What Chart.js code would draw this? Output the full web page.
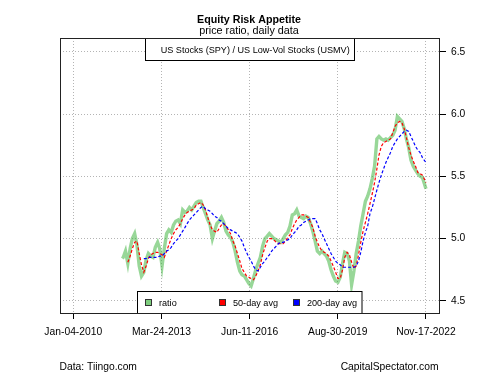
<!DOCTYPE html>
<html>
<head>
<meta charset="utf-8">
<script src="https://cdn.jsdelivr.net/npm/chart.js@4"></script>
<style>
  body { margin: 0; background: #fff; }
  canvas { display: block; }
</style>
</head>
<body>
<canvas id="c" width="500" height="375"></canvas>
<script>
// ── Data (monthly) ───────────────────────────────────────────────────────────
const dates = [
  '2011-10-20','2011-11-01','2011-12-01',
  '2012-01-01','2012-02-01','2012-03-01','2012-04-01','2012-05-01','2012-06-01','2012-07-01','2012-08-01','2012-09-01','2012-10-01','2012-11-01','2012-12-01',
  '2013-01-01','2013-02-01','2013-03-01','2013-04-01','2013-05-01','2013-06-01','2013-07-01','2013-08-01','2013-09-01','2013-10-01','2013-11-01','2013-12-01',
  '2014-01-01','2014-02-01','2014-03-01','2014-04-01','2014-05-01','2014-06-01','2014-07-01','2014-08-01','2014-09-01','2014-10-01','2014-11-01','2014-12-01',
  '2015-01-01','2015-02-01','2015-03-01','2015-04-01','2015-05-01','2015-06-01','2015-07-01','2015-08-01','2015-09-01','2015-10-01','2015-11-01','2015-12-01',
  '2016-01-01','2016-02-01','2016-03-01','2016-04-01','2016-05-01','2016-06-01','2016-07-01','2016-08-01','2016-09-01','2016-10-01','2016-11-01','2016-12-01',
  '2017-01-01','2017-02-01','2017-03-01','2017-04-01','2017-05-01','2017-06-01','2017-07-01','2017-08-01','2017-09-01','2017-10-01','2017-11-01','2017-12-01',
  '2018-01-01','2018-02-01','2018-03-01','2018-04-01','2018-05-01','2018-06-01','2018-07-01','2018-08-01','2018-09-01','2018-10-01','2018-11-01','2018-12-01',
  '2019-01-01','2019-02-01','2019-03-01','2019-04-01','2019-05-01','2019-06-01','2019-07-01','2019-08-01','2019-09-01','2019-10-01','2019-11-01','2019-12-01',
  '2020-01-01','2020-02-01','2020-03-01','2020-04-01','2020-05-01','2020-06-01','2020-07-01','2020-08-01','2020-09-01','2020-10-01','2020-11-01','2020-12-01',
  '2021-01-01','2021-02-01','2021-03-01','2021-04-01','2021-05-01','2021-06-01','2021-07-01','2021-08-01','2021-09-01','2021-10-01','2021-11-01','2021-12-01',
  '2022-01-01','2022-02-01','2022-03-01','2022-04-01','2022-05-01','2022-06-01','2022-07-01','2022-08-01','2022-09-01','2022-10-01','2022-11-17',
];

const ratio = [
  4.84, 4.85, 4.90,
  4.80, 4.92, 5.00, 5.04, 4.95, 4.78, 4.70, 4.73, 4.83, 4.88, 4.86, 4.85,
  4.93, 4.97, 4.92, 4.78, 4.92, 5.04, 5.07, 5.05, 5.11, 5.14, 5.15, 5.12,
  5.23, 5.21, 5.22, 5.25, 5.23, 5.26, 5.29, 5.30, 5.30, 5.25, 5.20, 5.15,
  5.11, 5.00, 5.06, 5.12, 5.14, 5.17, 5.13, 5.06, 5.03, 5.01, 4.97, 4.90,
  4.81, 4.74, 4.71, 4.70, 4.67, 4.64, 4.62, 4.68, 4.75, 4.80, 4.85, 4.94,
  5.00, 5.02, 5.04, 5.02, 5.00, 4.99, 4.98, 4.97, 5.00, 5.03, 5.05, 5.10,
  5.19, 5.20, 5.23, 5.18, 5.17, 5.16, 5.18, 5.17, 5.12, 5.06, 4.98, 4.90,
  4.88, 4.90, 4.88, 4.86, 4.82, 4.75, 4.70, 4.66, 4.65, 4.69, 4.80, 4.89,
  4.88, 4.82, 4.63, 4.74, 4.88, 4.98, 5.10, 5.20, 5.30, 5.34, 5.40, 5.48,
  5.58, 5.80, 5.82, 5.80, 5.79, 5.80, 5.79, 5.81, 5.83, 5.87, 5.98, 5.96,
  5.94, 5.88, 5.80, 5.73, 5.63, 5.58, 5.55, 5.52, 5.50, 5.49, 5.40,
];

const ma50 = [
  null, null, null,
  4.81, 4.86, 4.92, 4.97, 4.98, 4.88, 4.79, 4.73, 4.78, 4.84, 4.87, 4.88,
  4.89, 4.89, 4.88, 4.87, 4.85, 4.90, 4.95, 5.00, 5.04, 5.07, 5.09, 5.12,
  5.16, 5.19, 5.21, 5.22, 5.23, 5.24, 5.27, 5.28, 5.29, 5.27, 5.23, 5.17,
  5.11, 5.07, 5.06, 5.05, 5.08, 5.11, 5.12, 5.10, 5.07, 5.04, 4.98, 4.94,
  4.88, 4.82, 4.76, 4.73, 4.70, 4.69, 4.68, 4.67, 4.70, 4.74, 4.79, 4.87,
  4.93, 4.98, 5.00, 5.00, 4.99, 4.97, 4.96, 4.96, 4.96, 4.98, 5.01, 5.03,
  5.08, 5.12, 5.15, 5.17, 5.19, 5.19, 5.18, 5.17, 5.13, 5.09, 5.02, 4.97,
  4.93, 4.90, 4.89, 4.88, 4.86, 4.82, 4.78, 4.73, 4.68, 4.68, 4.75, 4.85,
  4.89, 4.87, 4.81, 4.76, 4.78, 4.87, 4.97, 5.06, 5.13, 5.20, 5.28, 5.36,
  5.45, 5.56, 5.67, 5.74, 5.77, 5.78, 5.79, 5.80, 5.85, 5.90, 5.93, 5.94,
  5.93, 5.88, 5.81, 5.73, 5.67, 5.62, 5.58, 5.53, 5.52, 5.51, 5.45,
];

const ma200 = [
  null, null, null,
  null, null, null, null, null, null, null, 4.84, 4.84, 4.85, 4.85, 4.85,
  4.85, 4.85, 4.86, 4.86, 4.88, 4.90, 4.91, 4.93, 4.96, 4.98, 5.00, 5.03,
  5.06, 5.09, 5.12, 5.15, 5.17, 5.19, 5.21, 5.23, 5.25, 5.26, 5.24, 5.23,
  5.22, 5.20, 5.18, 5.17, 5.15, 5.14, 5.12, 5.10, 5.08, 5.07, 5.06, 5.05,
  5.04, 5.01, 4.98, 4.93, 4.89, 4.85, 4.82, 4.78, 4.75, 4.74, 4.77, 4.80,
  4.82, 4.85, 4.87, 4.90, 4.92, 4.94, 4.96, 4.97, 4.97, 4.98, 4.99, 5.00,
  5.03, 5.05, 5.07, 5.10, 5.11, 5.13, 5.14, 5.15, 5.16, 5.16, 5.16, 5.12,
  5.07, 5.04, 5.00, 4.96, 4.92, 4.88, 4.85, 4.82, 4.80, 4.79, 4.77, 4.77,
  4.77, 4.77, 4.77, 4.77, 4.78, 4.82, 4.89, 4.98, 5.05, 5.10, 5.20, 5.25,
  5.32, 5.39, 5.45, 5.51, 5.56, 5.61, 5.65, 5.69, 5.74, 5.77, 5.80, 5.82,
  5.84, 5.86, 5.87, 5.86, 5.82, 5.78, 5.74, 5.71, 5.69, 5.65, 5.61,
];

const xTickDates  = ['2010-01-04', '2013-03-24', '2016-06-11', '2019-08-30', '2022-11-17'];
const xTickLabels = ['Jan-04-2010', 'Mar-24-2013', 'Jun-11-2016', 'Aug-30-2019', 'Nov-17-2022'];
const yTicks      = [4.5, 5.0, 5.5, 6.0, 6.5];

// ── Helpers ───────────────────────────────────────────────────────────────────
const DAY0 = Date.parse('2010-01-04');
const toDay = d => (Date.parse(d) - DAY0) / 86400000;
const pts = vals => dates.map((d, i) => ({ x: toDay(d), y: vals[i] }));

const FONT = '"Liberation Sans", Arial, sans-serif';
const GREEN = 'rgba(50,175,50,0.5)';

// ── Titles, legend boxes, frame ──────────────────────────────────────────────
const decor = {
  id: 'decor',
  afterDatasetsDraw(chart) {
    const { ctx, chartArea: a } = chart;
    const ds = chart.data.datasets;
    ctx.save();
    ctx.textBaseline = 'middle';
    ctx.lineWidth = 1;

    // top legend
    ctx.fillStyle = '#fff';
    ctx.fillRect(145.5, a.top + 0.5, 209, 22);
    ctx.strokeStyle = '#000';
    ctx.strokeRect(145.5, a.top + 0.5, 209, 22);
    ctx.fillStyle = '#000';
    ctx.font = `9.1px ${FONT}`;
    ctx.textAlign = 'left';
    ctx.fillText('US Stocks (SPY) / US Low-Vol Stocks (USMV)', 160.7, a.top + 12);

    // bottom legend
    const ly = a.bottom - 22;
    ctx.fillStyle = '#fff';
    ctx.fillRect(137.5, ly + 0.5, 224.5, 22);
    ctx.strokeStyle = '#000';
    ctx.strokeRect(137.5, ly + 0.5, 224.5, 22);
    const items = [
      { x: 145, fill: 'rgb(125,205,125)' },
      { x: 219, fill: '#ff0000' },
      { x: 293, fill: '#0000ff' },
    ];
    items.forEach((it, i) => {
      ctx.fillStyle = it.fill;
      ctx.fillRect(it.x + 0.5, ly + 8.5, 6, 6);
      ctx.strokeStyle = '#333';
      ctx.strokeRect(it.x + 0.5, ly + 8.5, 6, 6);
      ctx.fillStyle = '#000';
      ctx.fillText(ds[i].label, it.x + 14, ly + 12);
    });

    // plot frame
    ctx.strokeStyle = '#222';
    ctx.strokeRect(Math.round(a.left) + 0.5, Math.round(a.top) + 0.5,
                   Math.round(a.width) - 1, Math.round(a.height));

    // titles
    ctx.textAlign = 'center';
    ctx.fillStyle = '#000';
    ctx.font = `bold 10.7px ${FONT}`;
    ctx.fillText('Equity Risk Appetite', 249, 20.5);
    ctx.font = `10.8px ${FONT}`;
    ctx.fillText('price ratio, daily data', 249, 31.5);

    // footer
    ctx.font = `10.3px ${FONT}`;
    ctx.textAlign = 'left';
    ctx.fillText('Data: Tiingo.com', 59.5, 367.5);
    ctx.textAlign = 'right';
    ctx.fillText('CapitalSpectator.com', 438.5, 367.5);
    ctx.restore();
  },
};

// ── Chart ─────────────────────────────────────────────────────────────────────
new Chart(document.getElementById('c').getContext('2d'), {
  type: 'line',
  data: {
    datasets: [
      { label: 'ratio', data: pts(ratio), borderColor: GREEN, borderWidth: 3.4,
        pointRadius: 0, tension: 0, order: 3 },
      { label: '50-day avg', data: pts(ma50), borderColor: '#ff0000', borderWidth: 1.2,
        borderDash: [3, 2], pointRadius: 0, tension: 0, order: 2 },
      { label: '200-day avg', data: pts(ma200), borderColor: '#0000ff', borderWidth: 1.2,
        borderDash: [3, 2], pointRadius: 0, tension: 0, order: 1 },
    ],
  },
  options: {
    responsive: false,
    animation: false,
    layout: { padding: { left: 60, top: 38, right: 0, bottom: 0 } },
    plugins: { legend: { display: false }, tooltip: { enabled: false } },
    scales: {
      x: {
        type: 'linear',
        min: -177,
        max: 4887,
        afterBuildTicks: s => { s.ticks = xTickDates.map(d => ({ value: toDay(d) })); },
        afterFit: s => { s.height = 62; },
        border: { display: false, dash: [1, 2] },
        grid: { color: '#b4b4b4', lineWidth: 1, tickLength: 6, tickColor: '#000', tickWidth: 1 },
        ticks: {
          autoSkip: false, maxRotation: 0, padding: 7,
          color: '#000', font: { family: FONT, size: 10.3 },
          callback: (v, i) => xTickLabels[i],
        },
      },
      y: {
        position: 'right',
        min: 4.403,
        max: 6.61,
        afterBuildTicks: s => { s.ticks = yTicks.map(v => ({ value: v })); },
        afterFit: s => { s.width = 60; },
        border: { display: false, dash: [1, 2] },
        grid: { color: '#b4b4b4', lineWidth: 1, tickLength: 6, tickColor: '#000', tickWidth: 1 },
        ticks: {
          padding: 5, color: '#000', font: { family: FONT, size: 10.3 },
          callback: v => v.toFixed(1),
        },
      },
    },
  },
  plugins: [decor],
});
</script>
</body>
</html>
